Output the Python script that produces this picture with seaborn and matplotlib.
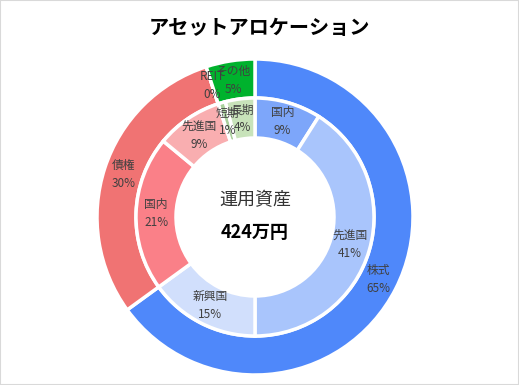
import matplotlib
matplotlib.use("Agg")
import matplotlib.pyplot as plt
import seaborn as sns
import numpy as np
from matplotlib.patches import Rectangle

sns.set_theme(style="white")
plt.rcParams['font.family'] = ['Noto Sans CJK JP', 'DejaVu Sans']

title = "アセットアロケーション"
center_title = "運用資産"
center_value = "424万円"

outer_labels = ["株式", "債権", "REIT", "その他"]
outer_values = [65, 30, 0, 5]
outer_colors = ["#4F88FA", "#F07373", "#F07373", "#00B22D"]

inner_labels = ["国内", "先進国", "新興国", "国内", "先進国", "短期", "長期"]
inner_values = [9, 41, 15, 21, 9, 1, 4]
inner_colors = ["#7DA6FA", "#A9C5FC", "#D1DFFC", "#FA8088", "#F9AEB0", "#A9D09C", "#C8E3BA"]

W, H = 519, 385
cx, cy = 255, 217
R = 158.0
fig = plt.figure(figsize=(W / 100, H / 100), dpi=100)
ax = fig.add_axes([0, 0, 1, 1])
ax.set_aspect("equal")
ax.axis("off")

r_split = 119 / R
r_hole = 79 / R
ow = 1 - r_split
iw = r_split - r_hole

wo, _ = ax.pie(outer_values, radius=1, colors=outer_colors, startangle=90,
               counterclock=False, wedgeprops=dict(width=ow, edgecolor="white", linewidth=2.5))
wi, _ = ax.pie(inner_values, radius=r_split, colors=inner_colors, startangle=90,
               counterclock=False, wedgeprops=dict(width=iw, edgecolor="white", linewidth=2.5))
ax.set_xlim(-cx / R, (W - cx) / R)
ax.set_ylim(-(H - cy) / R, cy / R)

tc = "#404040"

def put_labels(wedges, labels, values, rmid):
    for w, lab, v in zip(wedges, labels, values):
        ang = np.deg2rad((w.theta1 + w.theta2) / 2)
        x, y = rmid * np.cos(ang), rmid * np.sin(ang)
        ax.text(x, y + 0.057, lab, ha="center", va="center", fontsize=8.5, color=tc)
        ax.text(x, y - 0.057, f"{v}%", ha="center", va="center", fontsize=8.5, color=tc)

put_labels(wo, outer_labels, outer_values, (1 + r_split) / 2)
put_labels(wi, inner_labels, inner_values, (r_split + r_hole) / 2)

ax.text(0, 17 / R, center_title, ha="center", va="center", fontsize=13, color="#333333")
ax.text(0, -15 / R, center_value, ha="center", va="center", fontsize=13,
        fontweight="bold", color="black")

fig.text(259 / W, 1 - 28 / H, title, ha="center", va="center", fontsize=14.5,
         fontweight="bold", color="black")

fig.patches.append(Rectangle((0, 0), 1, 1, transform=fig.transFigure, fill=False,
                             edgecolor="#D9D9D9", linewidth=1.5))

fig.savefig("out.png", dpi=100)
